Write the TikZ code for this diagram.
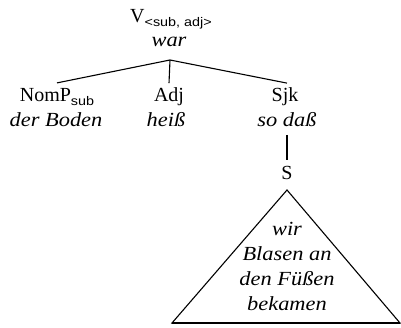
\documentclass[tikz,border=0pt]{standalone}
\usepackage{fontspec}
\setmainfont{Liberation Serif}
\newfontfamily\itfam{Liberation Serif}[FakeStretch=1.12]
\newfontfamily\subfam{Liberation Sans}[FakeStretch=1.15]
\begin{document}
\begin{tikzpicture}[x=1pt,y=-1pt,
  lbl/.style={inner sep=0pt, outer sep=0pt, anchor=base, font=\fontsize{20}{25}\selectfont},
  itl/.style={lbl, font=\fontsize{20}{25}\selectfont\itfam\itshape},
  ln/.style={line width=1.1pt}]
\newcommand{\mysub}[1]{\raisebox{-3.5pt}{\subfam\fontsize{12.5}{13}\selectfont #1}}
\useasboundingbox (0,0) rectangle (401,328);
% root
\node[lbl] (v) at (171,23) {V\mysub{<sub, adj>}};
\node[itl] (war) at (169,47) {war};
\coordinate (apex) at (170,60);
% daughters
\node[lbl] (nomp) at (57,102) {NomP\mysub{sub}};
\node[itl] (boden) at (56,127) {der Boden};
\node[lbl] (adj) at (169,102) {Adj};
\node[itl] (heiss) at (166,127) {heiß};
\node[lbl] (sjk) at (285,102) {Sjk};
\node[itl] (sodass) at (287,127) {so daß};
\node[lbl] (s) at (287,180) {S};
% triangle text
\node[itl] (t1) at (287,236) {wir};
\node[itl] (t2) at (287,261) {Blasen an};
\node[itl] (t3) at (287,286) {den Füßen};
\node[itl] (t4) at (287,310) {bekamen};
% connectors
\draw[ln] (apex) -- ([yshift=6pt]nomp.north);
\draw[ln] (apex) -- ([yshift=5pt]adj.north);
\draw[ln] (apex) -- ([yshift=5pt,xshift=2pt]sjk.north);
\draw[ln] ([yshift=-8pt]sodass.base) -- ([yshift=7pt]s.north);
% triangle
\coordinate (ttop) at ([yshift=-10pt]s.base);
\coordinate (tbl) at (172,323);
\coordinate (tbr) at (400,323);
\draw[ln, line join=miter] (ttop) -- (tbl) -- (tbr) -- cycle;
\draw[line width=2pt] (tbl) -- (tbr);
\end{tikzpicture}
\end{document}
